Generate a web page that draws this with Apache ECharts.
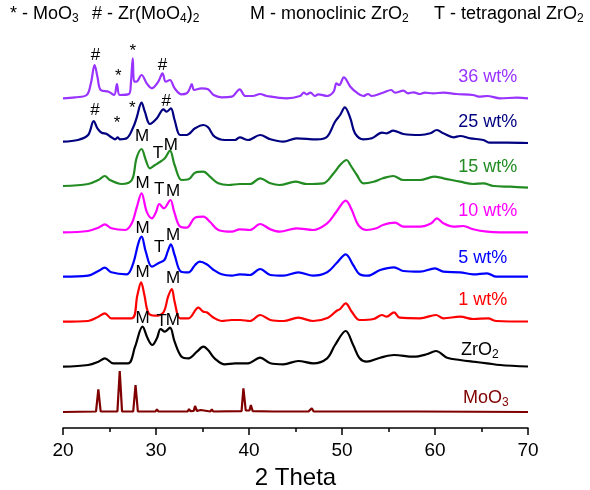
<!DOCTYPE html>
<html>
<head>
<meta charset="utf-8">
<script src="https://cdn.jsdelivr.net/npm/echarts@6/dist/echarts.min.js"></script>
<style>
  html, body { margin: 0; padding: 0; background: #fff; }
  #chart { width: 590px; height: 490px; }
</style>
</head>
<body>
<div id="chart"></div>
<script>
// XRD patterns, [2theta, stacked intensity]
const wt36 = [[20.0,329.7],[21.3,330.7],[22.55,333],[23.0,344.7],[23.4,363],[23.7,351.3],[24.05,338],[24.9,336.3],[25.5,333],[25.8,344],[26.1,333],[27.1,334],[27.3,344.7],[27.5,369.7],[27.65,346.3],[27.9,346.3],[28.45,353],[29.0,344.7],[29.55,339.7],[30.25,346.3],[30.7,354.7],[31.05,346.3],[31.5,348],[32.0,339.7],[32.75,333.7],[33.3,334.7],[33.6,338.7],[33.85,344],[34.1,338],[34.9,339.7],[35.6,338.7],[36.2,333],[37.05,330.7],[38.15,331.3],[39.0,338.7],[39.6,332],[40.4,332],[41.2,334],[41.9,332],[44.05,329.7],[45.5,332],[45.9,335.3],[46.2,333.7],[46.6,335.3],[47.1,332],[47.45,333.7],[48.4,332],[49.1,336.3],[49.4,344.7],[49.7,343],[50.2,350.7],[50.9,341.3],[51.6,335.3],[52.3,332],[52.8,334],[53.2,332],[54.4,335.3],[55.3,338],[55.7,335.3],[56.6,337.3],[57.1,334.7],[57.7,335.7],[58.4,334],[58.9,335.3],[59.8,334.7],[60.9,335.3],[62.3,334],[64.1,333],[64.7,331.3],[65.6,332],[67.0,329.7],[68.8,330.3],[70,329.7]];
const wt25 = [[20.0,286.3],[21.6,288],[22.7,293],[23.3,307],[23.7,299.7],[24.15,295.3],[24.7,294],[25.2,290.7],[25.6,288.7],[25.9,290.7],[26.1,288.7],[26.85,289.7],[27.55,300.7],[27.9,309.7],[28.45,325.3],[28.8,316.3],[29.35,304],[30.1,309.7],[30.8,318.7],[31.15,316.3],[31.6,319.7],[32.0,308],[32.6,293],[33.3,293],[34.2,299.7],[35.1,303],[35.6,300.7],[36.3,291.3],[37.4,288],[38.5,288],[39.0,290.7],[39.9,288],[41.2,293],[42.3,288.7],[43.7,286.3],[45.1,289.7],[47.3,288.7],[48.4,291.3],[49.25,306.3],[49.8,313],[50.3,320.7],[50.9,309.7],[51.4,294.7],[52.3,288.7],[53.2,289.7],[54.3,295.3],[54.8,294.7],[55.5,297.3],[56.6,294],[58.4,293],[59.5,294.7],[60.2,298],[60.9,294.7],[62.0,290.7],[62.7,292],[63.8,289.7],[65.2,288],[65.9,285.3],[67.7,285.3],[70,285]];
const wt15 = [[20.0,242],[22.7,244],[23.8,248],[24.5,252],[25.05,248],[26.3,244],[27.4,248],[27.9,269.7],[28.45,279],[28.9,268],[29.35,259.7],[29.9,263],[30.3,265.3],[30.95,269.7],[31.5,277.3],[32.0,263],[32.75,248],[33.5,248.7],[34.2,255.3],[35.1,256.3],[35.8,251.3],[36.7,244.7],[37.8,243],[39.0,244],[40.1,244],[41.2,249.7],[42.3,244.7],[43.3,243],[45.0,246.3],[46.2,244],[48.0,244.7],[49.1,254.7],[49.8,263],[50.5,268],[50.9,263],[51.6,253],[52.3,244.7],[53.4,246.3],[54.4,249.7],[55.5,252],[56.6,248],[58.4,248],[59.9,251.3],[60.9,249.7],[62.7,246.3],[64.1,244],[65.2,244.7],[66.3,242],[68.1,241.3],[70,240.3]];
const wt10 = [[20.0,195.7],[22.7,197],[23.8,200.3],[24.5,203.7],[25.2,199.7],[26.7,198],[27.4,204.7],[27.9,219.7],[28.45,234.7],[29.0,216.3],[29.55,209.7],[30.0,216],[30.35,224],[30.85,219.7],[31.55,228],[31.95,216.3],[32.6,201.3],[33.3,200.3],[34.2,210.3],[35.1,211.3],[35.8,206.3],[36.7,198],[38.15,196.3],[39.0,198.7],[40.1,198],[41.2,204],[42.3,198.7],[43.3,196.3],[45.1,199.7],[46.9,198],[48.4,204.7],[49.4,216.3],[50.4,227.3],[51.05,218],[51.75,203],[52.65,198],[53.7,199.7],[54.4,203],[55.7,205.3],[56.6,201.3],[58.4,201.3],[59.6,204.7],[60.2,209.7],[60.9,204.7],[62.0,201.3],[63.05,202],[64.1,198.7],[65.6,196.3],[67.0,195.7],[70,195.7]];
const wt5 = [[20.0,151.3],[22.7,152.3],[23.8,157],[24.5,160.3],[25.2,155.7],[26.85,153.7],[27.55,164.7],[28.1,184.7],[28.45,191.3],[28.9,176.3],[29.55,161.3],[30.25,164.7],[30.9,168],[31.25,176.3],[31.6,183.7],[32.0,173],[32.7,156.3],[33.5,155.7],[34.2,163],[34.7,166.3],[35.45,163.7],[36.2,158],[37.05,153.7],[38.15,152.3],[39.0,153.7],[40.1,153],[41.2,159],[42.3,153],[43.7,152.3],[45.3,155.7],[46.9,152.3],[48.4,155.7],[49.4,164.7],[50.4,173.7],[51.2,163],[51.9,153.7],[52.8,152.3],[54.1,158],[55.6,160.7],[56.6,157],[58.4,156.3],[60.0,159.7],[60.9,156.3],[62.7,155.7],[64.1,153.7],[65.6,154.7],[66.6,151.3],[70,151.3]];
const wt1 = [[20.0,106.3],[22.7,107],[23.8,111.3],[24.5,114.7],[25.2,109.7],[27.4,109.7],[28.0,133],[28.4,145.7],[28.75,133],[29.2,114.7],[29.9,112.3],[30.8,115.7],[31.3,131.3],[31.7,139],[32.0,126.3],[32.6,109.7],[33.5,109.7],[34.55,120.3],[35.1,116.3],[35.45,115.7],[36.2,110.3],[37.05,107],[38.15,108],[39.08,108],[40.1,107],[41.2,113],[42.3,108],[43.7,107],[45.3,110.3],[46.9,107],[48.5,110.3],[49.4,117],[49.8,119],[50.4,124.7],[51.05,116.3],[51.9,108],[53.4,109],[54.3,113],[54.8,111.3],[55.6,115.7],[56.2,110.3],[58.4,109.7],[60.1,113],[60.9,109.7],[62.7,111.3],[64.1,109],[65.7,109.7],[66.6,107],[70,106.5]];
const zro2 = [[20.0,61.3],[22.7,63],[23.8,66.3],[24.5,69.7],[25.4,64.7],[27.0,64.7],[27.75,81.3],[28.55,101.3],[29.1,89.7],[29.6,83],[30.1,89.7],[30.5,99],[30.95,96.3],[31.5,100.3],[32.0,86.3],[32.75,71.3],[33.5,69.7],[34.4,76.3],[35.1,81.3],[35.6,78],[36.3,69.7],[37.4,63.7],[38.5,64.7],[39.9,64.7],[41.2,70.3],[42.3,64.7],[43.7,63.7],[45.3,67],[46.9,64.7],[48.4,69.7],[49.25,83],[50.4,97],[51.2,83],[51.9,69.7],[52.65,66.3],[54.1,70.3],[55.6,73],[57.7,71.3],[59.1,73.7],[60.1,77],[61.3,70.3],[62.7,68],[64.1,66.3],[65.6,64.7],[67.0,63],[70,61.5]];
const moo3 = [[20,16],[23.55,16.5],[23.8,38.7],[24.05,16.5],[25.85,16.5],[26.1,57],[26.35,16.5],[27.55,16.5],[27.8,43],[28.05,16.5],[29.95,16.5],[30.1,18.7],[30.25,16.5],[33.4,16.5],[33.55,19],[33.7,16.8],[34.05,17],[34.2,22],[34.4,17],[34.8,18],[35.0,16.5],[35.85,16.5],[36.0,18.7],[36.15,16.5],[39.2,16.8],[39.4,39.7],[39.65,17.5],[40.05,17.5],[40.2,23],[40.4,16.8],[42.6,16.5],[42.8,18],[43.0,16.5],[46.0,16.5],[46.2,18],[46.4,16.5],[46.6,16.8],[46.75,19.7],[46.95,16.5],[49.45,16.5],[49.6,18],[49.75,16.5],[50.25,16.5],[50.4,18],[50.55,16.5],[52.8,16.5],[53.0,17.5],[53.2,16.5],[57.8,16.5],[58.0,17.3],[58.2,16.5],[70,16]];

const sampleNames = ['36 wt%', '25 wt%', '15 wt%', '10 wt%', '5 wt%', '1 wt%', 'ZrO{sub|2}', 'MoO{sub|3}'];
const sampleColors = ['#9933FF', '#000080', '#228B22', '#FF00FF', '#0000FF', '#FF0000', '#000000', '#800000'];
const sampleData = [wt36, wt25, wt15, wt10, wt5, wt1, zro2, moo3];
// where each sample name sits: [2theta, intensity]
const namePos = [[62.5,351.3],[62.5,306.3],[62.5,261.3],[62.5,217],[62.5,169.7],[62.5,128],[62.8,78],[63.0,30]];

// phase markers above the peaks: [2theta, intensity, symbol]
const peakMarks = [
  [23.5,373,'#'],[25.95,351.3,'*'],[27.5,376.3,'*'],[30.7,363,'#'],
  [23.45,318,'#'],[25.8,305,'*'],[27.45,320,'*'],[31.1,327,'#'],
  [28.5,291.3,'M'],[30.2,275,'T'],[31.6,283,'M'],
  [28.55,244.7,'M'],[30.35,238.7,'T'],[31.85,236.3,'M'],
  [28.55,199.7,'M'],[30.35,180.7,'T'],[31.85,193,'M'],
  [28.55,155.3,'M'],[31.85,149.7,'M'],
  [28.55,109.7,'M'],[30.6,106.3,'T'],[31.8,108,'M']
];

const xTicks = [20, 30, 40, 50, 60, 70];

const FONT = '"Liberation Sans", Arial, sans-serif';
const subStyle = { fontSize: 12, fontFamily: FONT, padding: [9, 0, 0, 0] };

const chart = echarts.init(document.getElementById('chart'), null, { renderer: 'canvas' });

const series = sampleData.map((d, i) => ({
  name: sampleNames[i],
  type: 'line',
  data: d,
  symbol: 'none',
  smooth: i === 7 ? false : 0.35,
  lineStyle: { color: sampleColors[i], width: 2.2 },
  silent: true,
  z: 2
}));

// sample names
series.push({
  type: 'scatter',
  symbolSize: 0,
  silent: true,
  itemStyle: { opacity: 1 },
  data: namePos.map((p, i) => ({
    value: p,
    label: {
      color: sampleColors[i],
      formatter: sampleNames[i],
      rich: { sub: Object.assign({}, subStyle, { color: sampleColors[i] }) }
    }
  })),
  label: {
    show: true,
    position: 'right',
    distance: 0,
    fontSize: 18,
    fontFamily: FONT
  },
  z: 5
});

// phase markers
series.push({
  type: 'scatter',
  symbolSize: 0,
  silent: true,
  itemStyle: { opacity: 1 },
  data: peakMarks,
  label: {
    show: true,
    position: 'inside',
    formatter: (p) => p.data[2],
    color: '#000',
    fontSize: 17,
    fontFamily: FONT
  },
  z: 5
});

const titleStyle = {
  fontSize: 18, fontWeight: 'normal', color: '#000', fontFamily: FONT,
  rich: { sub: { fontSize: 12, fontFamily: FONT, color: '#000', padding: [9, 0, 0, 0] } }
};

const option = {
  animation: false,
  title: [
    { text: '* - MoO{sub|3}', left: 10, top: 4 },
    { text: '# - Zr(MoO{sub|4}){sub|2}', left: 92, top: 4 },
    { text: 'M - monoclinic ZrO{sub|2}', left: 250, top: 4 },
    { text: 'T - tetragonal ZrO{sub|2}', left: 434, top: 4 }
  ].map(t => Object.assign(t, { padding: 0, textStyle: titleStyle })),
  grid: { left: 63, right: 62, top: 28, bottom: 62, containLabel: false, outerBoundsMode: 'none' },
  xAxis: {
    type: 'value',
    min: 20,
    max: 70,
    interval: 10,
    name: '2 Theta',
    nameLocation: 'middle',
    nameGap: 38,
    nameTextStyle: { fontSize: 24, fontFamily: FONT, color: '#000' },
    axisLine: { lineStyle: { color: '#000', width: 1.5 } },
    axisTick: { show: true, inside: false, length: 7, lineStyle: { color: '#000', width: 1.5 } },
    minorTick: { show: true, splitNumber: 2, length: 4, lineStyle: { color: '#000', width: 1.5 } },
    axisLabel: {
      fontSize: 19, fontFamily: FONT, color: '#000', margin: 13,
      formatter: (v) => xTicks.includes(v) ? String(v) : ''
    },
    splitLine: { show: false }
  },
  yAxis: {
    type: 'value',
    min: 0,
    max: 400,
    show: false
  },
  series: series
};

chart.setOption(option);
</script>
</body>
</html>
